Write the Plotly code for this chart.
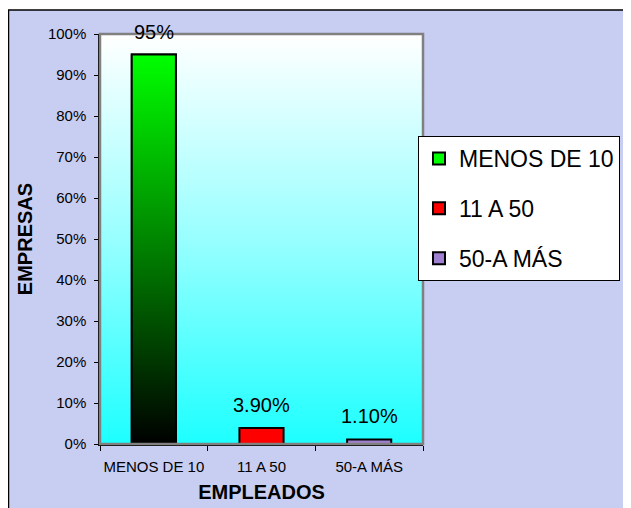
import plotly.graph_objects as go

categories = ["MENOS DE 10", "11 A 50", "50-A MÁS"]
values = [0.95, 0.039, 0.011]
value_labels = ["95%", "3.90%", "1.10%"]
bar_colors = ["#00ff00", "#ff0000", "#a080d0"]
y_ticks = [i / 10 for i in range(11)]

FONT = "Arial, Liberation Sans, sans-serif"
W, H = 623, 500
L, T = 92, 26
PW, PH = 323, 410
R, B = W - L - PW, H - T - PH
BW = 0.41

fig = go.Figure()

# plot-area gradient background (white top -> cyan bottom)
n = 100
fig.add_trace(go.Heatmap(
    z=[[k / (n - 1)] for k in range(n)],
    x0=1, dx=3, y0=0.5 / n, dy=1 / n,
    colorscale=[[0, "#1effff"], [0.5, "#98ffff"], [1, "#ffffff"]],
    showscale=False, hoverinfo="skip", zsmooth="best",
))

for i, (c, v, col) in enumerate(zip(categories, values, bar_colors)):
    fig.add_trace(go.Bar(
        x=[i], y=[v], width=BW, name=c, legendgroup=c,
        marker=dict(color=col, line=dict(color="black", width=2)),
    ))

# gradient overlay for the first bar
x0, x1 = 0 - BW / 2, 0 + BW / 2
fig.add_trace(go.Scatter(
    x=[x0, x1, x1, x0, x0], y=[0, 0, values[0], values[0], 0],
    mode="lines", fill="toself", showlegend=False, hoverinfo="skip",
    line=dict(color="black", width=2),
    fillgradient=dict(type="vertical",
                      colorscale=[[0, "#000000"], [1, "#00ff00"]]),
))

for i, (v, t) in enumerate(zip(values, value_labels)):
    fig.add_annotation(x=i, y=v, text=t, showarrow=False, yshift=23,
                       yanchor="middle", font=dict(size=20, color="black", family=FONT))

# outer background frame
fig.add_shape(type="rect", xref="paper", yref="paper",
              x0=(0.5 - L) / PW, x1=(W + 20 - L) / PW,
              y0=-(B + 20) / PH, y1=(T - 2) / PH + 1,
              fillcolor="#c8cdf2", line=dict(color="black", width=1.5), layer="below")
# plot area border (gray top/right)
fig.add_shape(type="rect", xref="paper", yref="paper", x0=0, x1=1, y0=0, y1=1,
              line=dict(color="#808080", width=2.5), fillcolor="rgba(0,0,0,0)")

fig.update_layout(
    width=W, height=H,
    margin=dict(l=L, r=R, t=T, b=B, autoexpand=False),
    paper_bgcolor="white", plot_bgcolor="rgba(0,0,0,0)",
    font=dict(family=FONT, color="black"),
    barmode="overlay",
    showlegend=True,
    legend=dict(xref="container", yref="container",
                x=410 / W, y=1 - 128 / H,
                xanchor="left", yanchor="top",
                bgcolor="white", bordercolor="black", borderwidth=1,
                font=dict(size=23, family=FONT, color="black"),
                tracegroupgap=17, itemwidth=30),
    xaxis=dict(range=[-0.5, 2.5], tickvals=[0, 1, 2], ticktext=categories,
               ticks="", showgrid=False, zeroline=False, automargin=False,
               showline=True, linecolor="black", linewidth=1.5,
               tickfont=dict(size=15, family=FONT, color="black"),
               ticklabelstandoff=8,
               minor=dict(tickvals=[-0.5, 0.5, 1.5, 2.5], ticks="outside",
                          ticklen=5, tickcolor="black", showgrid=False),
               title=dict(text="<b>EMPLEADOS</b>", font=dict(size=20, family=FONT), standoff=11),
               fixedrange=True),
    yaxis=dict(range=[0, 1], tickvals=y_ticks, tickformat=".0%",
               ticks="outside", ticklen=4, tickcolor="black", automargin=False,
               showgrid=False, zeroline=False,
               showline=True, linecolor="black", linewidth=1.5,
               tickfont=dict(size=15, family=FONT, color="black"),
               ticklabelstandoff=5,
               title=dict(text="<b>EMPRESAS</b>", font=dict(size=20, family=FONT), standoff=10),
               fixedrange=True),
)

fig.write_html("out.html")
